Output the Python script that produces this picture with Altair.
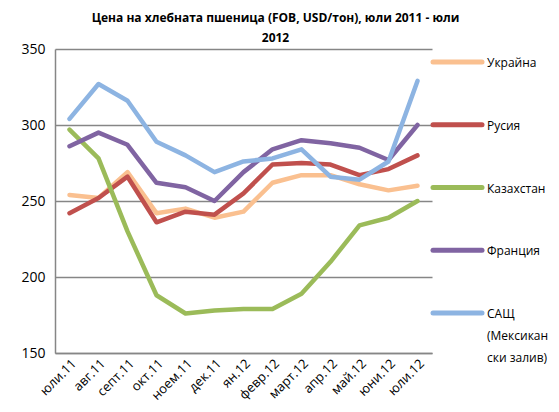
import altair as alt
import pandas as pd

months = ["юли.11", "авг.11", "септ.11", "окт.11", "ноем.11", "дек.11", "ян.12",
          "февр.12", "март.12", "апр.12", "май.12", "юни.12", "юли.12"]

series = ["Украйна", "Русия", "Казахстан", "Франция", "САЩ (Мексикански залив)"]
legend_labels = ["Украйна", "Русия", "Казахстан", "Франция", "САЩ\n(Мексикан\nски залив)"]
colors = ["#FAC090", "#C0504D", "#9BBB59", "#8064A2", "#8DB4E2"]

ukraine = [254, 252, 269, 242, 245, 239, 243, 262, 267, 267, 261, 257, 260]
russia = [242, 252, 266, 236, 243, 241, 255, 274, 275, 274, 267, 271, 280]
kazakhstan = [297, 278, 230, 188, 176, 178, 179, 179, 189, 210, 234, 239, 250]
france = [286, 295, 287, 262, 259, 250, 269, 284, 290, 288, 285, 277, 300]
usa = [304, 327, 316, 289, 280, 269, 276, 278, 284, 266, 264, 276, 329]

values = [ukraine, russia, kazakhstan, france, usa]

rows = []
for k, (name, vals) in enumerate(zip(series, values)):
    for i, (m, v) in enumerate(zip(months, vals)):
        rows.append({"series": name, "month": m, "value": v, "k": k, "i": i})
df = pd.DataFrame(rows)

FONT = "Open Sans"
GRID = "#868686"

color_scale = alt.Scale(domain=series, range=colors)

main = alt.Chart(df).mark_line(strokeWidth=4.5, strokeCap="round", strokeJoin="round").encode(
    x=alt.X("month:N", sort=months,
            axis=alt.Axis(title=None, labelAngle=-45, ticks=False, domainColor=GRID,
                          domainWidth=1.5, labelFontSize=13, labelFont=FONT,
                          labelColor="#000000", labelPadding=4)),
    y=alt.Y("value:Q", scale=alt.Scale(domain=[150, 350], nice=False, zero=False),
            axis=alt.Axis(title=None, values=[150, 200, 250, 300, 350], grid=True,
                          gridColor=GRID, gridWidth=1.5, ticks=False, domainColor=GRID,
                          domainWidth=1.5, labelFontSize=14, labelFont=FONT,
                          labelColor="#000000", labelPadding=10)),
    color=alt.Color("series:N", scale=color_scale, legend=None),
    detail="k:N",
    order="i:Q",
)

leg_df = pd.DataFrame({"series": series, "label": legend_labels})

leg_y = alt.Y("series:N", sort=series, axis=None,
              scale=alt.Scale(type="point", padding=0, range=[13, 264]))

leg_rule = alt.Chart(leg_df).mark_rule(strokeWidth=5, strokeCap="round").encode(
    x=alt.value(378), x2=alt.value(427), y=leg_y,
    color=alt.Color("series:N", scale=color_scale, legend=None),
)
leg_text = alt.Chart(leg_df).mark_text(
    align="left", baseline="alphabetic", dy=5, lineBreak="\n", lineHeight=22,
    font=FONT, fontSize=12, color="#000000",
).encode(x=alt.value(432), y=leg_y, text="label:N")

chart = alt.layer(main, leg_rule, leg_text).resolve_scale(y="independent").properties(
    width=377, height=304,
    autosize=alt.AutoSizeParams(type="none"),
    padding={"left": 47, "top": 41, "right": 119, "bottom": 51},
    title=alt.Title(["Цена на хлебната пшеница (FOB, USD/тон), юли 2011 - юли", "2012"],
                    font=FONT, fontSize=12, fontWeight="bold", color="#000000",
                    anchor="middle", dx=32, lineHeight=20, offset=-3),
).configure_view(stroke=None)

chart.save("out.html", embed_options={"renderer": "svg", "actions": False})
